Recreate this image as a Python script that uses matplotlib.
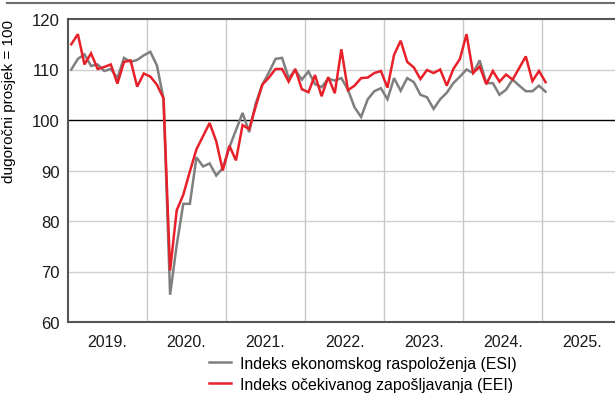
import matplotlib
matplotlib.use("Agg")
import matplotlib.pyplot as plt
from matplotlib.lines import Line2D
import numpy as np

plt.rcParams['font.family'] = ['Liberation Sans Narrow', 'Liberation Sans', 'DejaVu Sans']

# Monthly data, Jan 2019 - Jan 2025
esi = [
    110.0, 112.1, 113.0, 110.7, 111.0, 109.7, 110.1, 108.3, 112.3, 111.5, 111.9, 112.8,
    113.5, 110.8, 104.2, 65.4, 75.2, 83.4, 83.4, 92.6, 90.8, 91.4, 89.0, 90.5,
    94.6, 98.0, 101.4, 97.6, 103.3, 107.0, 109.4, 112.1, 112.3, 108.3, 109.9, 108.0,
    109.6, 107.1, 106.5, 108.2, 107.8, 108.3, 106.0, 102.5, 100.6, 104.1, 105.7, 106.3,
    104.1, 108.3, 105.8, 108.3, 107.5, 105.0, 104.5, 102.2, 104.1, 105.4, 107.3, 108.6,
    110.0, 109.3, 111.8, 107.3, 107.3, 105.0, 106.0, 108.0, 106.8, 105.7, 105.7, 106.8,
    105.6,
]
eei = [
    115.0, 117.0, 111.0, 113.2, 110.1, 110.5, 111.0, 107.2, 111.5, 111.8, 106.6, 109.2,
    108.6, 107.0, 104.3, 70.2, 82.1, 85.2, 89.8, 94.2, 96.8, 99.4, 95.8, 90.0,
    94.9, 92.0, 99.0, 98.2, 102.7, 107.0, 108.4, 110.1, 110.1, 107.6, 110.1, 106.1,
    105.5, 108.9, 104.7, 108.5, 105.3, 114.0, 105.9, 106.8, 108.3, 108.4, 109.3, 109.7,
    106.4, 112.9, 115.7, 111.5, 110.4, 108.1, 109.9, 109.3, 110.0, 106.8, 110.1, 112.1,
    117.0, 109.3, 110.6, 107.1, 109.7, 107.6, 109.0, 108.0, 110.3, 112.6, 107.7, 109.7,
    107.5,
]
years = [2019, 2020, 2021, 2022, 2023, 2024, 2025]
year_labels = ["2019.", "2020.", "2021.", "2022.", "2023.", "2024.", "2025."]
series_names = ["Indeks ekonomskog raspoloženja (ESI)", "Indeks očekivanog zapošljavanja (EEI)"]
y_ticks = [60, 70, 80, 90, 100, 110, 120]

start = 2019
x = np.array([start + (i + 0.5) / 12 for i in range(len(esi))])

grey = "#7f7f7f"
red = "#e8202a"

fig = plt.figure(figsize=(6.15, 4.06), dpi=100)
ax = fig.add_axes([68 / 615, (406 - 323) / 406, 547 / 615, 303 / 406])

ax.set_xlim(2019, 2025.92)
ax.set_ylim(60, 120)

for yv in y_ticks:
    if yv == 100:
        ax.axhline(yv, color="black", lw=1.0, zorder=2)
    elif 60 < yv < 120:
        ax.axhline(yv, color="#cfcfcf", lw=1.0, zorder=1)
for yr in years[1:]:
    ax.axvline(yr, color="#c8c8c8", lw=1.0, zorder=1)

ax.plot(x, esi, color=grey, lw=1.8, zorder=3, solid_joinstyle="miter")
ax.plot(x, eei, color=red, lw=1.8, zorder=4, solid_joinstyle="miter")

ax.set_yticks(y_ticks)
ax.set_yticklabels([str(v) for v in y_ticks], fontsize=12)
ax.set_xticks([y + 0.5 for y in years])
ax.set_xticklabels(year_labels, fontsize=11.5)
ax.tick_params(axis="both", length=0, pad=6, colors="#1a1a1a")
ax.tick_params(axis="x", pad=9)

for side in ["left", "bottom", "top"]:
    ax.spines[side].set_color("#555555")
    ax.spines[side].set_linewidth(1.5)
ax.spines["right"].set_visible(False)

ax.set_ylabel("dugoročni prosjek = 100", fontsize=11, labelpad=6)
ax.yaxis.set_label_coords(-0.095, 0.73)

# top rule across the figure
fig.add_artist(Line2D([7 / 615, 1.0], [1 - 4 / 406, 1 - 4 / 406], color="#6e6e6e", lw=1.5))

handles = [Line2D([], [], color=grey, lw=1.8), Line2D([], [], color=red, lw=1.8)]
fig.legend(handles, series_names, loc="upper left", bbox_to_anchor=(209 / 615, 1 - 357 / 406),
           frameon=False, fontsize=11.4, handlelength=1.4, handletextpad=0.55,
           labelspacing=0.35, borderaxespad=0, borderpad=0)

fig.savefig("out.png", dpi=100)
